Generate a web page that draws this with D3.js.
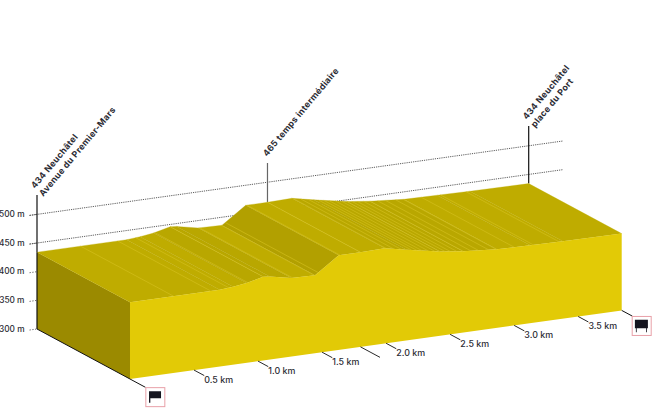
<!DOCTYPE html>
<html>
<head>
<meta charset="utf-8">
<script src="https://cdn.jsdelivr.net/npm/d3@7"></script>
<style>
	html, body { margin: 0; padding: 0; background: #fff; }
	svg { display: block; }
	text { font-family: Inter, "Noto Sans", sans-serif; }
</style>
</head>
<body>
<div id="chart"></div>
<script>
// Route profile
const profileKm = [0, 0.70, 0.805, 0.91, 1.04, 1.09, 1.26, 1.445, 1.63, 1.80, 1.99, 2.16, 2.42, 2.60, 2.865, 3.125, 3.38, 3.84];
const profileElev = [434, 434, 436, 439, 446, 445, 437, 436, 465, 465, 466, 458, 447, 442, 437, 436, 435, 434];

// Light survey lines across the top surface
const stripeKm = [0.34, 0.63, 0.77, 0.92, 1.04, 1.27, 1.44, 1.47, 1.64, 1.80, 2.0, 2.06, 2.12, 2.2, 2.24, 2.28, 2.33, 2.38, 2.42, 2.46, 2.5, 2.55, 2.6, 2.66, 2.72, 2.8, 2.86, 3.0, 3.15, 3.35];

const elevTicks = [300, 350, 400, 450, 500];
const gridElev = [450, 500];
const kmTicks = [0.5, 1.0, 1.5, 2.0, 2.5, 3.0, 3.5];
const splitKm = [1.8];

const markerKm = [0, 1.8, 3.84];
const markerElev = [434, 465, 434];
const markerTop = [195, 163, 126];
const markerLines = [
	["434 Neuchâtel", "Avenue du Premier-Mars"],
	["465 temps intermédiaire"],
	["434 Neuchâtel", "place du Port"],
];

const W = 655, H = 414;
const DEPTH_X = -93, DEPTH_Y = -50;

const kmX = d3.scaleLinear().domain([0, 3.84]).range([130, 621.7]);
const kmY = d3.scaleLinear().domain([0, 3.84]).range([379, 310.4]);
const elevH = d3.scaleLinear().domain([300, 434]).range([0, 76.8]);

// depth 0 = front face, depth 1 = back edge
function project(km, elev, depth) {
	return [kmX(km) + DEPTH_X * depth, kmY(km) - elevH(elev) + DEPTH_Y * depth];
}

const COL_FRONT = "#e2ca06";
const COL_SIDE = "#9b8a00";
const COL_INK = "#2b2b33";

// steeper climbs get a darker facet
const slopeShade = d3.scaleThreshold()
	.domain([-10, 40, 100])
	.range(["#b9a700", "#bfac00", "#b9a700", "#b2a000"]);

const svg = d3.select("#chart").append("svg").attr("width", W).attr("height", H);
const line = d3.line();

// Elevation grid, behind the block
const gridG = svg.append("g");
gridG.selectAll("line").data(gridElev).join("line")
	.attr("x1", (d) => project(-0.058, d, 1)[0])
	.attr("y1", (d) => project(-0.058, d, 1)[1])
	.attr("x2", (d) => project(4.11, d, 1)[0])
	.attr("y2", (d) => project(4.11, d, 1)[1])
	.attr("stroke", "#333")
	.attr("stroke-width", 0.8)
	.attr("stroke-dasharray", "1.2,1");

// Marker poles
const poleG = svg.append("g");
markerKm.forEach((km, i) => {
	const p = project(km, markerElev[i], 1);
	poleG.append("line")
		.attr("x1", p[0]).attr("x2", p[0])
		.attr("y1", markerTop[i]).attr("y2", p[1])
		.attr("stroke", i === 1 ? "#666" : "#111")
		.attr("stroke-width", 1.2);
});

// Left side face
svg.append("path")
	.attr("d", line([
		project(0, 300, 0),
		project(0, 434, 0),
		project(0, 434, 1),
		project(0, 300, 1),
	]) + "Z")
	.attr("fill", COL_SIDE);

// Top surface facets
const topG = svg.append("g");
d3.pairs(d3.range(profileKm.length)).forEach(([a, b]) => {
	const slope = (profileElev[b] - profileElev[a]) / (profileKm[b] - profileKm[a]);
	topG.append("path")
		.attr("d", line([
			project(profileKm[a], profileElev[a], 0),
			project(profileKm[b], profileElev[b], 0),
			project(profileKm[b], profileElev[b], 1),
			project(profileKm[a], profileElev[a], 1),
		]) + "Z")
		.attr("fill", slopeShade(slope))
		.attr("stroke", slopeShade(slope))
		.attr("stroke-width", 0.3);
});

const elevAt = d3.scaleLinear().domain(profileKm).range(profileElev);
topG.selectAll("line").data(stripeKm).join("line")
	.attr("x1", (d) => project(d, elevAt(d), 0)[0])
	.attr("y1", (d) => project(d, elevAt(d), 0)[1])
	.attr("x2", (d) => project(d, elevAt(d), 1)[0])
	.attr("y2", (d) => project(d, elevAt(d), 1)[1])
	.attr("stroke", "#d6c220")
	.attr("stroke-opacity", 0.85)
	.attr("stroke-width", 0.7);

// Front face
const frontPts = profileKm.map((km, i) => project(km, profileElev[i], 0));
svg.append("path")
	.attr("d", line([project(0, 300, 0), ...frontPts, project(3.84, 300, 0)]) + "Z")
	.attr("fill", COL_FRONT);

// Elevation axis
const axisG = svg.append("g");
axisG.append("line")
	.attr("x1", project(0, 434, 1)[0]).attr("x2", project(0, 300, 1)[0])
	.attr("y1", project(0, 434, 1)[1]).attr("y2", project(0, 300, 1)[1])
	.attr("stroke", "#111").attr("stroke-width", 1.2);
axisG.selectAll("line.stub").data(elevTicks).join("line")
	.attr("class", "stub")
	.attr("x1", project(-0.058, 300, 1)[0])
	.attr("x2", project(0, 300, 1)[0])
	.attr("y1", (d) => project(-0.058, d, 1)[1])
	.attr("y2", (d) => project(0, d, 1)[1])
	.attr("stroke", "#333")
	.attr("stroke-width", 0.8)
	.attr("stroke-dasharray", "1.2,1.6");
axisG.selectAll("text").data(elevTicks).join("text")
	.attr("x", 24.5)
	.attr("y", (d) => project(-0.058, d, 1)[1] + 1.5)
	.attr("text-anchor", "end")
	.attr("font-size", 8.3)
	.attr("font-weight", 500)
	.attr("fill", COL_INK)
	.text((d) => d + " m");

// Block's lower left edge and the far right stub
axisG.append("path")
	.attr("d", line([project(0, 300, 1), project(0, 300, -0.167)]))
	.attr("fill", "none").attr("stroke", "#111").attr("stroke-width", 1);
axisG.append("path")
	.attr("d", line([project(3.84, 300, 0), project(3.84, 300, -0.115)]))
	.attr("fill", "none").attr("stroke", "#111").attr("stroke-width", 1);

// Distance ticks
const kmG = svg.append("g");
kmTicks.forEach((km) => {
	const a = project(km, 300, 0), b = project(km, 300, -0.11);
	kmG.append("path").attr("d", line([a, b]))
		.attr("fill", "none").attr("stroke", "#111").attr("stroke-width", 0.9);
	kmG.append("text")
		.attr("x", b[0])
		.attr("y", b[1] + 7)
		.attr("font-size", 8.9)
		.attr("font-weight", 500)
		.attr("fill", COL_INK)
		.text(d3.format(".1f")(km) + " km");
});
splitKm.forEach((km) => {
	kmG.append("path").attr("d", line([project(km, 300, 0), project(km, 300, -0.21)]))
		.attr("fill", "none").attr("stroke", "#111").attr("stroke-width", 0.9);
});

// Marker labels
markerKm.forEach((km, i) => {
	const x = project(km, markerElev[i], 1)[0];
	const y = markerTop[i];
	markerLines[i].forEach((txt, j) => {
		const ox = markerLines[i].length === 1 ? -0.5 : (j === 0 ? -2 : 6.2);
		const oy = markerLines[i].length === 1 ? -6 : (j === 0 ? -6 : 2);
		svg.append("text")
			.attr("transform", `translate(${x + ox},${y + oy}) rotate(-50)`)
			.attr("font-size", 8.8)
			.attr("font-weight", 700)
			.attr("letter-spacing", 0.3)
			.attr("fill", COL_INK)
			.text(txt);
	});
});

// Start and finish flags
const startAt = project(0, 300, -0.167);
const startG = svg.append("g").attr("transform", `translate(${startAt[0]},${startAt[1]})`);
startG.append("rect").attr("x", 0.3).attr("y", 0.3).attr("width", 19).attr("height", 19)
	.attr("fill", "#fff").attr("stroke", "#e8a0a8").attr("stroke-width", 1);
startG.append("path").attr("d", "M3.5,4H15.5V11H4.8V15.5H3.5Z").attr("fill", "#15151f");

const finishAt = project(3.84, 300, -0.115);
const finishG = svg.append("g").attr("transform", `translate(${finishAt[0] - 0.5},${finishAt[1]})`);
finishG.append("rect").attr("x", 0.3).attr("y", 0.3).attr("width", 19).attr("height", 19)
	.attr("fill", "#fff").attr("stroke", "#e8a0a8").attr("stroke-width", 1);
finishG.append("path").attr("d", "M3,3.5H16V12H15V16H14.2V12H4.8V16H4V12H3Z").attr("fill", "#15151f");
</script>
</body>
</html>
